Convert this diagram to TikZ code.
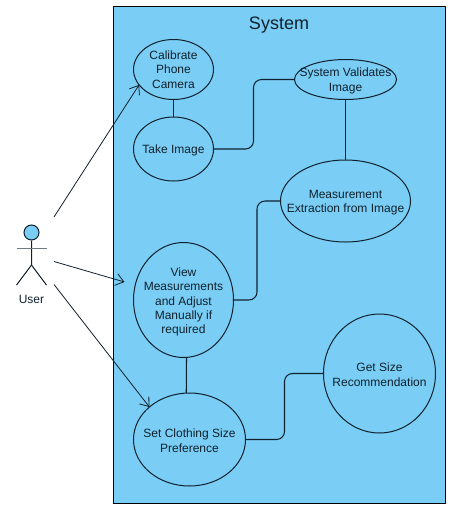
\documentclass[tikz,border=0pt]{standalone}
\usepackage{fontspec}
\setmainfont{Liberation Sans}
\usetikzlibrary{shapes.geometric,arrows.meta}
\definecolor{sysblue}{HTML}{7ACEF6}
\definecolor{inkline}{HTML}{10202C}
\tikzstyle{case node} = [ellipse,draw=inkline,fill=sysblue,inner sep=0,outer sep=0,line width=0.75pt]
\tikzstyle{link} = [draw=inkline,line width=0.8pt,rounded corners=6pt]
\tikzstyle{actor arrow} = [draw=inkline,line width=0.6pt,-{Straight Barb[length=6pt,width=9pt]}]

\begin{document}
\begin{tikzpicture}[x=0.75pt,y=-0.75pt,
                    font=\fontsize{9}{10.7}\selectfont,
                    every label/.style={align=center,inner sep=0,text=inkline,yshift=-1pt}
                    ]
\useasboundingbox (0,0) rectangle (452,515);

    \node(system)[draw=black,fill=sysblue,line width=0.75pt,minimum width=249pt,minimum height=372.75pt] at (279.5,255){};
    \node(title)[font=\fontsize{13.5}{16}\selectfont,text=inkline] at (279,25){System};

    % Use cases
    \node(calibrate)[case node,minimum width=60pt,minimum height=45pt,label={[yshift=1pt]center:{Calibrate\\Phone\\Camera}}] at (173.5,69.5){};
    \node(take)[case node,minimum width=60pt,minimum height=48pt,label=center:{Take Image}] at (173.5,149){};
    \node(validate)[case node,minimum width=76.5pt,minimum height=30pt,label=center:{System Validates\\Image}] at (345.5,79.5){};
    \node(extract)[case node,minimum width=97.5pt,minimum height=61.5pt,label=center:{Measurement\\Extraction from Image}] at (345.5,201){};
    \node(view)[case node,minimum width=75pt,minimum height=86.25pt,label={[yshift=-0.5pt]center:{View\\Measurements\\and Adjust\\Manually if\\required}}] at (183.5,300){};
    \node(prefer)[case node,minimum width=84pt,minimum height=69.75pt,label=center:{Set Clothing Size\\Preference}] at (189.5,439.5){};
    \node(recommend)[case node,minimum width=84pt,minimum height=89.25pt,label=center:{Get Size\\Recommendation}] at (379.5,373.5){};

    % Links between use cases
    \draw[link](calibrate.south)--(take.north);
    \draw[link](validate.south)--(extract.north);
    \draw[link](view.-87)--(prefer.94);
    \draw[link](take.east)--++(40,0)|-(validate.west);
    \draw[link](view.east)--++(23.5,0)|-(extract.west);
    \draw[link](prefer.east)--++(39,0)|-(recommend.west);

    % Actor
    \node(head)[circle,draw=inkline,fill=sysblue,line width=0.75pt,inner sep=0,minimum size=11.25pt] at (31.5,232.5){};
    \coordinate(armL) at (16.5,248.5);
    \coordinate(armR) at (46.5,248.5);
    \coordinate(hip) at (31.5,265);
    \coordinate(footL) at (16.5,285);
    \coordinate(footR) at (46.5,285);
    \draw[draw=inkline,line width=0.75pt](head.south)--(hip)--(footL);
    \draw[draw=inkline,line width=0.75pt](hip)--(footR);
    \draw[draw=inkline!60,line width=0.9pt](armL)--(armR);
    \node(user)[text=inkline] at (31.5,299){User};

    % Arrows from the actor
    \coordinate(from1) at (54,217);
    \coordinate(from2) at (54,261.5);
    \coordinate(from3) at (54,284.5);
    \coordinate(to2) at (124.5,282);
    \draw[actor arrow](from1)--(calibrate.204);
    \draw[actor arrow](from2)--(to2);
    \draw[actor arrow](from3)--(prefer.141);

\end{tikzpicture}
\end{document}
